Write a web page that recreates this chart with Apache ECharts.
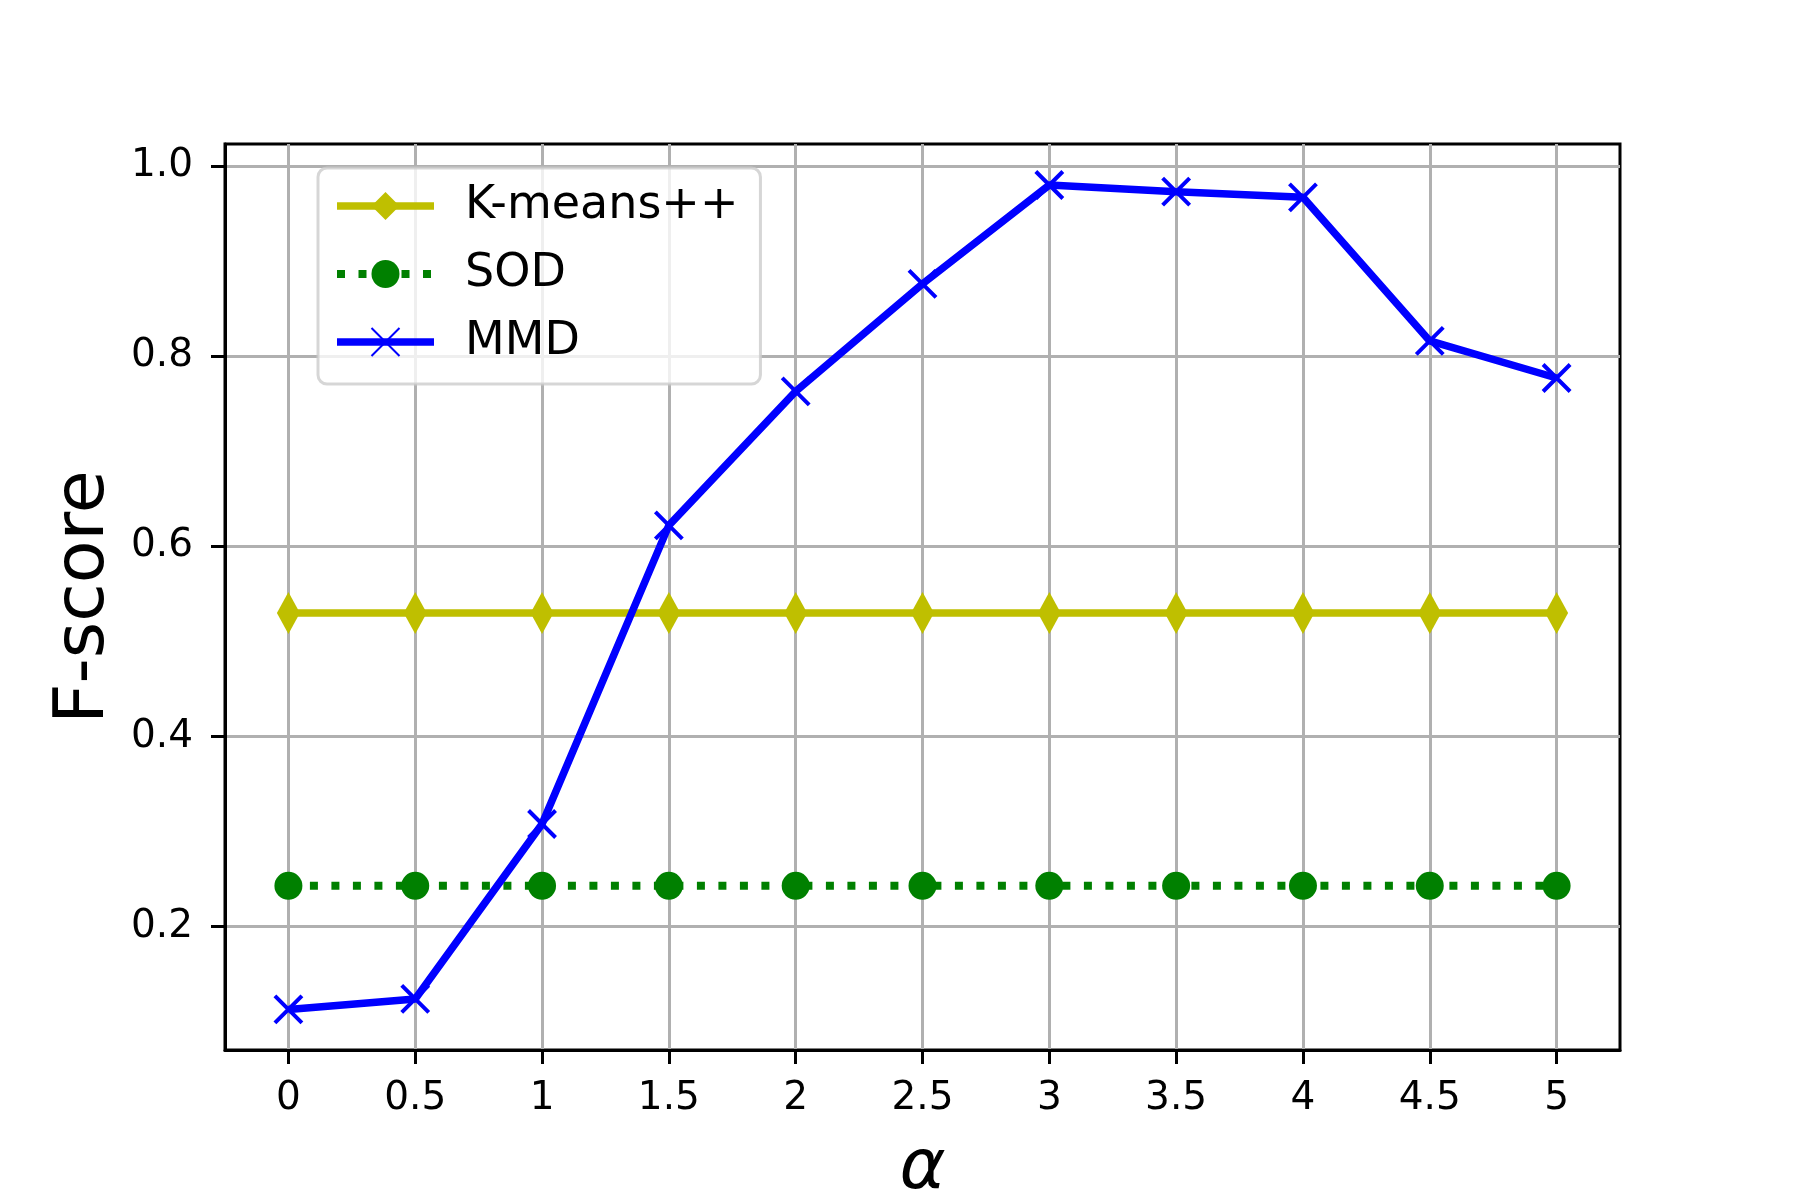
<!DOCTYPE html>
<html>
<head>
    <meta charset="utf-8">
    <title>F-score vs alpha</title>
    <script src="https://cdn.jsdelivr.net/npm/echarts@6/dist/echarts.min.js"></script>
    <style>
        html, body { margin: 0; padding: 0; background: #fff; }
    </style>
</head>
<body>
    <div id="main" style="width: 1800px;height:1200px;"></div>
    <script type="text/javascript">
    var myChart = echarts.init(document.getElementById('main'));

    // values
    var alphas = [0, 0.5, 1, 1.5, 2, 2.5, 3, 3.5, 4, 4.5, 5];
    var kmeansScores = [0.53, 0.53, 0.53, 0.53, 0.53, 0.53, 0.53, 0.53, 0.53, 0.53, 0.53];
    var sodScores = [0.243, 0.243, 0.243, 0.243, 0.243, 0.243, 0.243, 0.243, 0.243, 0.243, 0.243];
    var mmdScores = [0.113, 0.124, 0.308, 0.622, 0.763, 0.876, 0.980, 0.973, 0.967, 0.816, 0.777];
    var xTicks = [0, 0.5, 1, 1.5, 2, 2.5, 3, 3.5, 4, 4.5, 5];
    var yTicks = [0.2, 0.4, 0.6, 0.8, 1.0];

    function pairs(ys) {
        return alphas.map(function (a, i) { return [a, ys[i]]; });
    }

    var font = 'DejaVu Sans';
    var gridColor = '#b0b0b0';

    option = {
        animation: false,
        backgroundColor: '#ffffff',
        grid: {
            left: 225,
            right: 180,
            top: 144,
            bottom: 150,
            containLabel: false,
            outerBoundsMode: 'none',
            show: true,
            borderColor: '#000',
            borderWidth: 3,
            backgroundColor: 'transparent'
        },
        legend: {
            orient: 'vertical',
            left: 318,
            top: 168,
            padding: [15, 22, 19, 15],
            itemWidth: 97,
            itemHeight: 35,
            itemGap: 22,
            backgroundColor: 'rgba(255,255,255,0.8)',
            borderColor: 'rgba(204,204,204,0.8)',
            borderWidth: 3,
            borderRadius: 9,
            lineStyle: { width: 7.5 },
            textStyle: {
                fontFamily: font,
                fontSize: 46,
                color: '#000',
                padding: [0, 0, 0, 26]
            },
            data: [
                { name: 'K-means++' },
                { name: 'SOD', lineStyle: { width: 8 } },
                { name: 'MMD' }
            ]
        },
        xAxis: {
            type: 'value',
            min: -0.25,
            max: 5.25,
            name: 'α',
            nameLocation: 'middle',
            nameGap: 85,
            nameTextStyle: {
                fontFamily: font,
                fontSize: 70,
                fontStyle: 'italic',
                color: '#000'
            },
            axisLine: { show: true, onZero: false, lineStyle: { color: '#000', width: 3 } },
            axisTick: {
                show: true,
                length: 14,
                customValues: xTicks,
                lineStyle: { color: '#000', width: 3 }
            },
            axisLabel: {
                customValues: xTicks,
                margin: 29,
                fontFamily: font,
                fontSize: 39,
                color: '#000'
            },
            splitLine: { show: true, lineStyle: { color: gridColor, width: 3 } }
        },
        yAxis: {
            type: 'value',
            min: 0.0703,
            max: 1.0231,
            name: 'F-score',
            nameLocation: 'middle',
            nameGap: 104,
            nameTextStyle: {
                fontFamily: font,
                fontSize: 70,
                color: '#000'
            },
            axisLine: { show: true, onZero: false, lineStyle: { color: '#000', width: 3 } },
            axisTick: {
                show: true,
                length: 14,
                customValues: yTicks,
                lineStyle: { color: '#000', width: 3 }
            },
            axisLabel: {
                customValues: yTicks,
                margin: 32,
                fontFamily: font,
                fontSize: 39,
                color: '#000',
                formatter: function (v) { return v.toFixed(1); }
            },
            splitLine: { show: true, lineStyle: { color: gridColor, width: 3 } }
        },
        series: [
            {
                name: 'K-means++',
                type: 'line',
                data: pairs(kmeansScores),
                symbol: 'diamond',
                symbolSize: [23, 42],
                lineStyle: { color: '#bfbf00', width: 7.5 },
                itemStyle: { color: '#bfbf00' }
            },
            {
                name: 'SOD',
                type: 'line',
                data: pairs(sodScores),
                symbol: 'circle',
                symbolSize: 28,
                lineStyle: { color: '#008000', width: 8, type: [8, 13.5], cap: 'butt' },
                itemStyle: { color: '#008000' }
            },
            {
                name: 'MMD',
                type: 'line',
                data: pairs(mmdScores),
                symbol: 'path://M0,0L10,10M10,0L0,10',
                symbolSize: 27,
                lineStyle: { color: '#0000ff', width: 7.5 },
                itemStyle: { color: 'none', borderColor: '#0000ff', borderWidth: 4 }
            }
        ]
    };

    myChart.setOption(option);
    </script>
</body>
</html>
